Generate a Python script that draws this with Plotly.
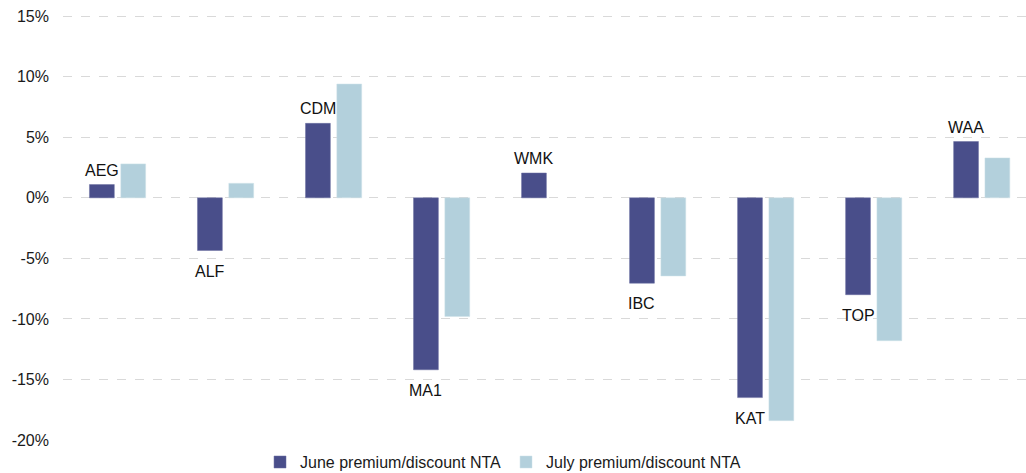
import plotly.graph_objects as go

categories = ["AEG", "ALF", "CDM", "MA1", "WMK", "IBC", "KAT", "TOP", "WAA"]
june_values = [1.1, -4.35, 6.15, -14.2, 2.05, -7.05, -16.5, -8.0, 4.65]
july_values = [2.8, 1.2, 9.4, -9.8, None, -6.45, -18.4, -11.8, 3.3]
tick_vals = [15, 10, 5, 0, -5, -10, -15, -20]
tick_text = ["15%", "10%", "5%", "0%", "-5%", "-10%", "-15%", "-20%"]

june_name = "June premium/discount NTA"
july_name = "July premium/discount NTA"
june_color = "#494e8a"
july_color = "#b3d0dc"

idx = list(range(len(categories)))
off = 0.145
bw = 0.23

fig = go.Figure()
fig.add_trace(go.Bar(
    x=[i - off for i in idx], y=june_values, width=bw, name=june_name,
    marker=dict(color=june_color, line=dict(color="#6a6fa0", width=0.5)),
))
fig.add_trace(go.Bar(
    x=[i + off for i in idx], y=july_values, width=bw, name=july_name,
    marker=dict(color=july_color, line=dict(color="#cfe2e9", width=0.5)),
))

for i, (c, v) in enumerate(zip(categories, june_values)):
    if v >= 0:
        fig.add_annotation(x=i - off, y=v, text=c, showarrow=False,
                           yanchor="bottom", yshift=4,
                           font=dict(size=16, color="#111111"))
    else:
        fig.add_annotation(x=i - off, y=v, text=c, showarrow=False,
                           yanchor="top", yshift=-10,
                           font=dict(size=16, color="#111111"))

fig.update_layout(
    width=1026, height=473,
    margin=dict(l=63, r=0, t=15, b=33, autoexpand=False),
    paper_bgcolor="white", plot_bgcolor="white",
    font=dict(family="Liberation Sans, Arial, sans-serif", size=16, color="#1a1a1a"),
    barmode="overlay",
    showlegend=True,
    legend=dict(orientation="h", x=0.2046, xanchor="left", y=-0.012, yanchor="top",
                font=dict(size=16), itemwidth=30, tracegroupgap=0),
    xaxis=dict(range=[-0.505, 8.41], showticklabels=False, showgrid=False,
               zeroline=False, showline=False, ticks=""),
    yaxis=dict(range=[-20, 15.1], tickvals=tick_vals, ticktext=tick_text,
               showgrid=True, gridcolor="#d9d9d9", griddash="dash", gridwidth=1,
               zeroline=False, showline=False, ticks="", ticklabelstandoff=13,
               ticklabeloverflow="allow"),
)

fig.write_html("out.html",
               config={"displayModeBar": False},
               post_script="document.body.style.margin='0';document.body.style.padding='0';")
